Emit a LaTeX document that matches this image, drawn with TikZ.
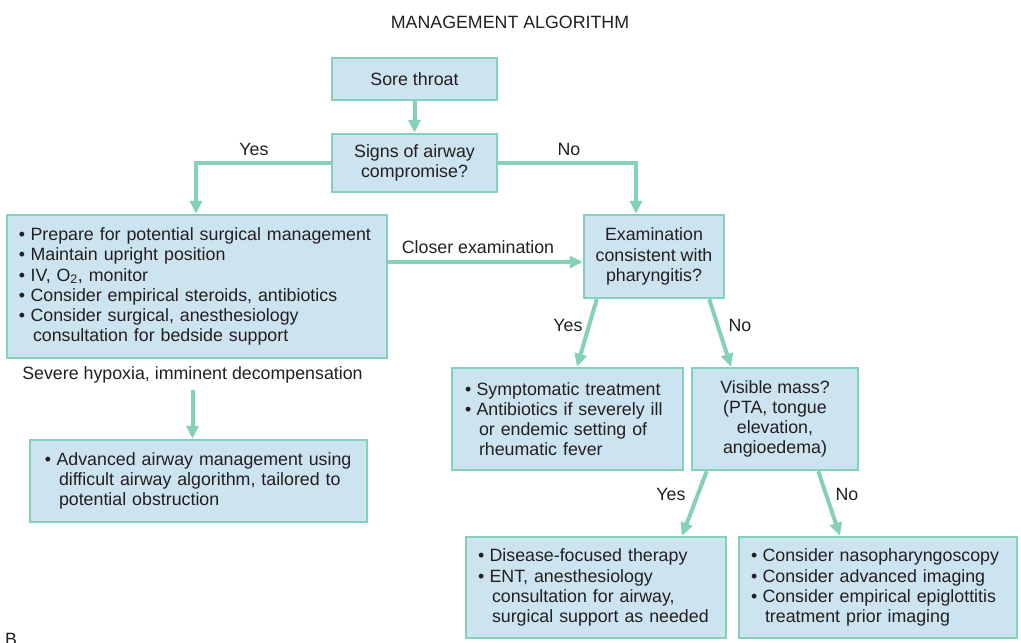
\documentclass[tikz,border=0pt]{standalone}
\usepackage{fontspec}
\setmainfont{Liberation Sans}
\usetikzlibrary{arrows.meta}
\definecolor{gline}{HTML}{84D0B8}
\definecolor{bfill}{HTML}{CCE3F0}
\definecolor{ink}{HTML}{231F20}
\tikzset{
  box/.style={draw=gline, line width=2.5pt, fill=bfill, text=ink, inner ysep=0pt,
    font=\fontsize{17.8}{20.2}\selectfont},
  lbox/.style={box, align=left},
  cbox/.style={box, align=center},
  conn/.style={draw=gline, line width=4pt, -{Triangle[length=13pt,width=12pt]}},
  lab/.style={text=ink, font=\fontsize{17.8}{20.2}\selectfont, inner sep=0pt}
}
\newcommand{\bul}{•\hspace{0.3em}}
\newcommand{\ind}{\hspace*{14pt}}
\begin{document}
\begin{tikzpicture}[x=1pt,y=-1pt]
\useasboundingbox (0,0) rectangle (1021,643);
\node[lab] (title) at (510,22) {MANAGEMENT ALGORITHM};
\node[cbox, minimum width=165pt, minimum height=42pt] (sore) at (414.5,79) {Sore throat};
\node[cbox, minimum width=165pt, minimum height=58pt] (signs) at (414.5,163) {Signs of airway\\compromise?};
\node[lbox, minimum width=380pt, minimum height=143pt, text width=356pt, inner xsep=12pt] (left) at (197,286.5)
 {\bul Prepare for potential surgical management\\
  \bul Maintain upright position\\
  \bul IV, O\textsubscript{2}, monitor\\
  \bul Consider empirical steroids, antibiotics\\
  \bul Consider surgical, anesthesiology\\
  \ind consultation for bedside support};
\node[cbox, minimum width=140pt, minimum height=83pt] (exam) at (654,256.5) {Examination\\consistent with\\pharyngitis?};
\node[lab] (hyp) at (192.5,375) {Severe hypoxia, imminent decompensation};
\node[lbox, minimum width=337pt, minimum height=82pt, text width=307pt, inner xsep=15pt] (adv) at (198.5,481)
 {\bul Advanced airway management using\\
  \ind difficult airway algorithm, tailored to\\
  \ind potential obstruction};
\node[lbox, minimum width=231pt, minimum height=102pt, text width=205pt, inner xsep=13pt] (sympt) at (567.5,419)
 {\bul Symptomatic treatment\\
  \bul Antibiotics if severely ill\\
  \ind or endemic setting of\\
  \ind rheumatic fever};
\node[cbox, minimum width=166pt, minimum height=102pt] (vis) at (775,419)
 {Visible mass?\\(PTA, tongue\\elevation,\\angioedema)};
\node[lbox, minimum width=260pt, minimum height=101pt, text width=236pt, inner xsep=12pt] (dis) at (596,587.5)
 {\bul Disease-focused therapy\\
  \bul ENT, anesthesiology\\
  \ind consultation for airway,\\
  \ind surgical support as needed};
\node[lbox, minimum width=278pt, minimum height=101pt, text width=254pt, inner xsep=12pt] (cons) at (878,587.5)
 {\bul Consider nasopharyngoscopy\\
  \bul Consider advanced imaging\\
  \bul Consider empirical epiglottitis\\
  \ind treatment prior imaging};
\node[lab, anchor=base west] (bl) at (5,645) {B};
% connectors
\draw[conn] (sore) -- (signs);
\draw[conn] (signs.west) -| ([xshift=-1pt]left.north);
\draw[conn] (signs.east) -| ([xshift=-18pt]exam.north);
\draw[conn] (left.east |- 0,262) -- (exam.west |- 0,262);
\draw[conn] (hyp.south |- 0,390) -- (hyp.south |- adv.north);
\draw[conn] ([xshift=14pt]exam.south west) -- ([xshift=9.5pt]sympt.north);
\draw[conn] ([xshift=-16pt]exam.south east) -- ([xshift=-44pt]vis.north);
\draw[conn] ([xshift=16pt]vis.south west) -- ([xshift=86pt]dis.north);
\draw[conn] ([xshift=-41pt]vis.south east) -- ([xshift=-38pt]cons.north);
% labels
\node[lab] (ly1) at (254,149) {Yes};
\node[lab] (ln1) at (569,149) {No};
\node[lab] (lc) at (478,247) {Closer examination};
\node[lab] (ly2) at (568,325) {Yes};
\node[lab] (ln2) at (740,325) {No};
\node[lab] (ly3) at (671,494) {Yes};
\node[lab] (ln3) at (847,494) {No};
\end{tikzpicture}
\end{document}
